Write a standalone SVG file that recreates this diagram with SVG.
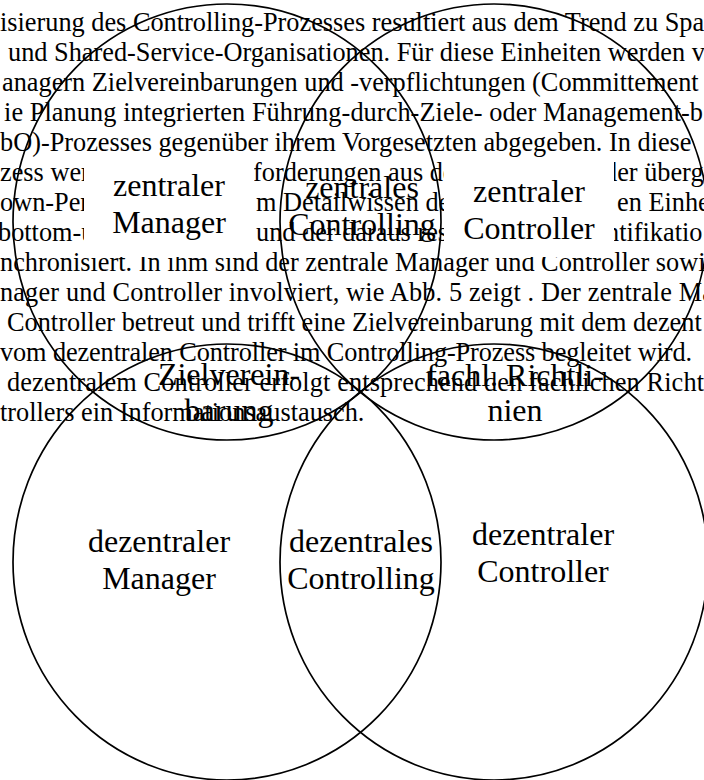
<svg xmlns="http://www.w3.org/2000/svg" width="704" height="780" viewBox="0 0 704 780">
<style>
.body{font-family:"Liberation Serif","Times New Roman",serif;font-size:26.3px;fill:#000}
.lbl{font-family:"Liberation Serif","Times New Roman",serif;font-size:32px;fill:#000;text-anchor:middle}
.set{fill:none;stroke:#000;stroke-width:1.7}
.mask{fill:#fff;stroke:none}
</style>
<rect width="704" height="780" fill="#fff"/>
<g id="body-text" class="body">
<text x="0" y="31">isierung des Controlling-Prozesses resultiert aus dem Trend zu Spa</text>
<text x="8" y="61">und Shared-Service-Organisationen. Für diese Einheiten werden v</text>
<text x="2" y="91">anagern Zielvereinbarungen und -verpflichtungen (Committement</text>
<text x="4" y="121" textLength="699" lengthAdjust="spacing">ie Planung integrierten Führung-durch-Ziele- oder Management-b</text>
<text x="0" y="151">bO)-Prozesses gegenüber ihrem Vorgesetzten abgegeben. In diese</text>
<text x="0" y="181">zess wer</text>
<text x="253" y="181">forderungen aus de</text>
<text x="604" y="181">der überg</text>
<text x="0" y="211">own-Per</text>
<text x="256" y="211">m Detailwissen de</text>
<text x="617" y="211">en Einhe</text>
<text x="-2" y="241">bottom-u</text>
<text x="256" y="241">und der daraus res</text>
<text x="606" y="241">ntifikatio</text>
<text x="0" y="271">nchronisiert. In ihm sind der zentrale Manager und Controller sowi</text>
<text x="0" y="301" textLength="714" lengthAdjust="spacing">nager und Controller involviert, wie Abb. 5 zeigt . Der zentrale Ma</text>
<text x="7" y="331">Controller betreut und trifft eine Zielvereinbarung mit dem dezent</text>
<text x="0" y="361" textLength="692" lengthAdjust="spacing">vom dezentralen Controller im Controlling-Prozess begleitet wird.</text>
<text x="7" y="391" textLength="697" lengthAdjust="spacing">dezentralem Controller erfolgt entsprechend den fachlichen Richt</text>
<text x="0" y="421">trollers ein Informationsaustausch.</text>
</g>
<g id="label-backgrounds">
<rect class="mask" x="84" y="159" width="170" height="98"/>
<rect class="mask" x="444" y="159" width="170" height="98"/>
</g>
<g id="sets">
<ellipse id="set-zentraler-manager" class="set" cx="227" cy="222" rx="214" ry="218"/>
<ellipse id="set-zentraler-controller" class="set" cx="494" cy="222" rx="214" ry="218"/>
<ellipse id="set-dezentraler-manager" class="set" cx="227" cy="562" rx="214" ry="218"/>
<ellipse id="set-dezentraler-controller" class="set" cx="494" cy="562" rx="214" ry="218"/>
</g>
<g id="zentraler-manager" class="lbl"><text x="169" y="196">zentraler</text><text x="169" y="233">Manager</text></g>
<g id="zentrales-controlling" class="lbl"><text x="362" y="198">zentrales</text><text x="362" y="235">Controlling</text></g>
<g id="zentraler-controller" class="lbl"><text x="529" y="202">zentraler</text><text x="529" y="239">Controller</text></g>
<g id="zielvereinbarung" class="lbl"><text x="229" y="385">Zielverein-</text><text x="229" y="421">barung</text></g>
<g id="fachl-richtlinien" class="lbl"><text x="515" y="386">fachl. Richtli-</text><text x="515" y="421">nien</text></g>
<g id="dezentraler-manager" class="lbl"><text x="159" y="552">dezentraler</text><text x="159" y="589">Manager</text></g>
<g id="dezentrales-controlling" class="lbl"><text x="361" y="552">dezentrales</text><text x="361" y="589">Controlling</text></g>
<g id="dezentraler-controller" class="lbl"><text x="543" y="545">dezentraler</text><text x="543" y="582">Controller</text></g>
</svg>
